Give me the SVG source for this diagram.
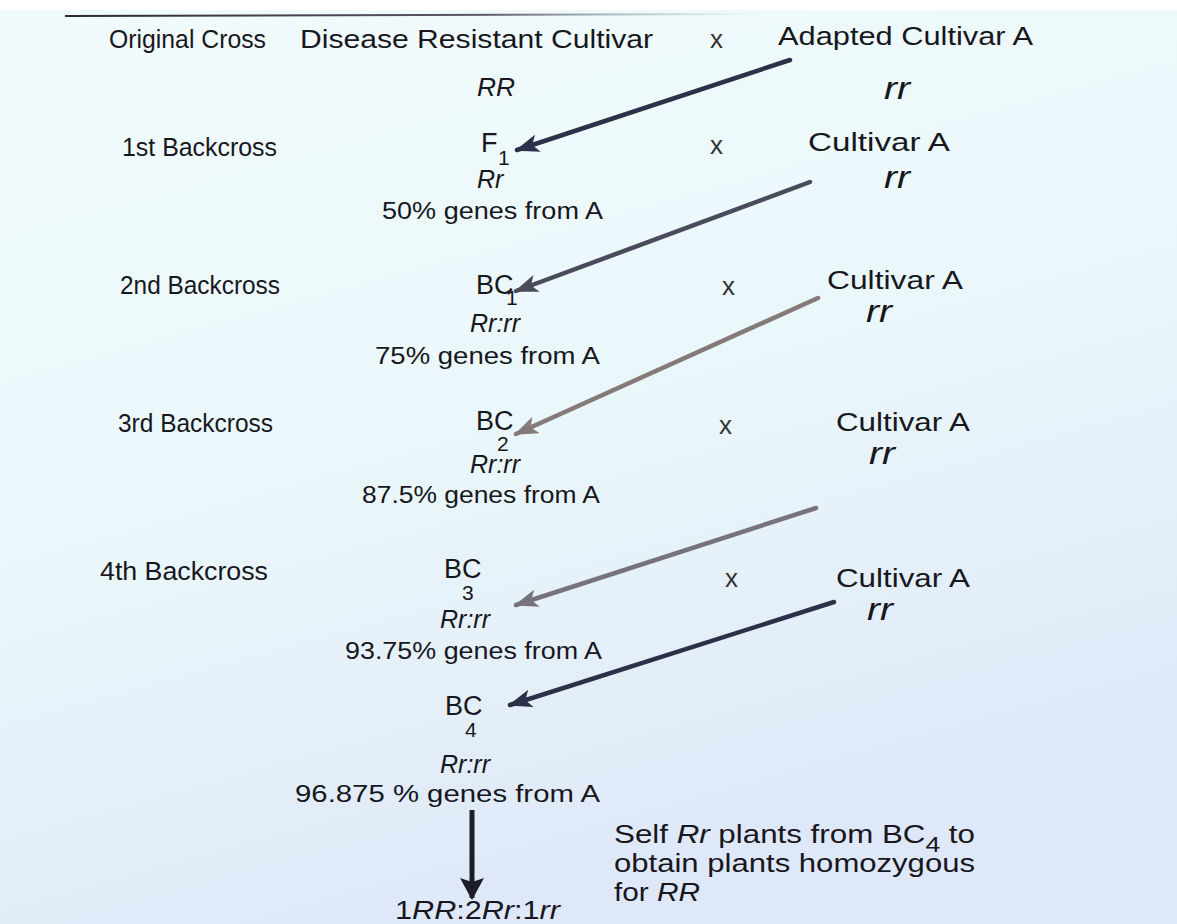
<svg xmlns="http://www.w3.org/2000/svg" width="1177" height="924" viewBox="0 0 1177 924">
  <defs>
    <linearGradient id="page" x1="0" y1="0" x2="0.35" y2="1">
      <stop offset="0" stop-color="#f2fbfc"/>
      <stop offset="0.55" stop-color="#eaf7fa"/>
      <stop offset="1" stop-color="#dfe8f8"/>
    </linearGradient>
    <linearGradient id="rule" x1="0" y1="0" x2="1" y2="0">
      <stop offset="0" stop-color="#2a2a30"/>
      <stop offset="0.6" stop-color="#5a5a66"/>
      <stop offset="1" stop-color="#9aa" stop-opacity="0"/>
    </linearGradient>
    <marker id="headDark" viewBox="0 0 24 18" refX="22" refY="9" markerWidth="24" markerHeight="18" markerUnits="userSpaceOnUse" orient="auto">
      <path d="M0,0 L24,9 L0,18 L6,9 Z" fill="#2c3048"/>
    </marker>
    <marker id="headMid" viewBox="0 0 24 18" refX="22" refY="9" markerWidth="24" markerHeight="18" markerUnits="userSpaceOnUse" orient="auto">
      <path d="M0,0 L24,9 L0,18 L6,9 Z" fill="#4a4c5c"/>
    </marker>
    <marker id="headLight" viewBox="0 0 24 18" refX="22" refY="9" markerWidth="24" markerHeight="18" markerUnits="userSpaceOnUse" orient="auto">
      <path d="M0,0 L24,9 L0,18 L6,9 Z" fill="#857a7a"/>
    </marker>
    <marker id="headGrey" viewBox="0 0 24 18" refX="22" refY="9" markerWidth="24" markerHeight="18" markerUnits="userSpaceOnUse" orient="auto">
      <path d="M0,0 L24,9 L0,18 L6,9 Z" fill="#77737a"/>
    </marker>
    <marker id="headDown" viewBox="0 0 22 24" refX="20" refY="12" markerWidth="22" markerHeight="24" markerUnits="userSpaceOnUse" orient="auto">
      <path d="M0,0 L22,12 L0,24 L4,12 Z" fill="#1c1e2a"/>
    </marker>
  </defs>
  <style>
    text { font-family: "Liberation Sans", Arial, Helvetica, sans-serif; fill: #17171d; }
    .lbl { font-size: 25px; }
    .head { font-size: 26px; }
    .sym { font-size: 27px; }
    .sub { font-size: 21px; }
    .gen { font-size: 25px; font-style: italic; }
    .rr { font-size: 32px; font-style: italic; }
    .pct { font-size: 23px; }
    .x { font-size: 26px; fill: #333; }
    .note { font-size: 26px; }
    .link { fill: none; stroke-width: 4.5; stroke-linecap: round; }
  </style>

  <!-- page background -->
  <rect x="0" y="0" width="1177" height="924" fill="url(#page)"/>
  <rect x="0" y="0" width="1177" height="10" fill="#ffffff"/>
  <line x1="65" y1="16" x2="760" y2="14" stroke="url(#rule)" stroke-width="2"/>

  <!-- row labels -->
  <g id="row-labels">
    <text class="lbl" x="109" y="48" textLength="157" lengthAdjust="spacingAndGlyphs">Original Cross</text>
    <text class="lbl" x="122" y="156" textLength="155" lengthAdjust="spacingAndGlyphs">1st Backcross</text>
    <text class="lbl" x="120" y="294" textLength="160" lengthAdjust="spacingAndGlyphs">2nd Backcross</text>
    <text class="lbl" x="118" y="432" textLength="155" lengthAdjust="spacingAndGlyphs">3rd Backcross</text>
    <text class="lbl" x="100" y="580" textLength="168" lengthAdjust="spacingAndGlyphs">4th Backcross</text>
  </g>

  <g id="parent-resistant">
    <text class="head" x="300" y="48" textLength="353" lengthAdjust="spacingAndGlyphs">Disease Resistant Cultivar</text>
    <text class="gen" x="477" y="96" textLength="38" lengthAdjust="spacingAndGlyphs">RR</text>
  </g>

  <g id="crosses">
    <text class="x" x="710" y="48">x</text>
    <text class="x" x="710" y="154">x</text>
    <text class="x" x="722" y="295">x</text>
    <text class="x" x="719" y="434">x</text>
    <text class="x" x="725" y="587">x</text>
  </g>

  <g id="adapted-a">
    <text class="head" x="778" y="45" textLength="255" lengthAdjust="spacingAndGlyphs">Adapted Cultivar A</text>
    <text class="rr" x="884" y="99" textLength="26" lengthAdjust="spacingAndGlyphs">rr</text>
  </g>
  <g id="recurrent-1">
    <text class="head" x="808" y="151" textLength="142" lengthAdjust="spacingAndGlyphs">Cultivar A</text>
    <text class="rr" x="884" y="188" textLength="26" lengthAdjust="spacingAndGlyphs">rr</text>
  </g>
  <g id="recurrent-2">
    <text class="head" x="827" y="289" textLength="136" lengthAdjust="spacingAndGlyphs">Cultivar A</text>
    <text class="rr" x="866" y="322" textLength="26" lengthAdjust="spacingAndGlyphs">rr</text>
  </g>
  <g id="recurrent-3">
    <text class="head" x="836" y="431" textLength="134" lengthAdjust="spacingAndGlyphs">Cultivar A</text>
    <text class="rr" x="869" y="464" textLength="26" lengthAdjust="spacingAndGlyphs">rr</text>
  </g>
  <g id="recurrent-4">
    <text class="head" x="836" y="587" textLength="134" lengthAdjust="spacingAndGlyphs">Cultivar A</text>
    <text class="rr" x="867" y="620" textLength="26" lengthAdjust="spacingAndGlyphs">rr</text>
  </g>

  <g id="f1">
    <text class="sym" x="481" y="152">F<tspan class="sub" x="498" y="165">1</tspan></text>
    <text class="gen" x="477" y="188">Rr</text>
    <text class="pct" x="382" y="219" textLength="221" lengthAdjust="spacingAndGlyphs">50% genes from A</text>
  </g>
  <g id="bc1">
    <text class="sym" x="476" y="294">BC<tspan class="sub" x="506" y="305">1</tspan></text>
    <text class="gen" x="470" y="332">Rr:rr</text>
    <text class="pct" x="375" y="364" textLength="225" lengthAdjust="spacingAndGlyphs">75% genes from A</text>
  </g>
  <g id="bc2">
    <text class="sym" x="476" y="430">BC<tspan class="sub" x="497" y="451">2</tspan></text>
    <text class="gen" x="470" y="473">Rr:rr</text>
    <text class="pct" x="362" y="503" textLength="238" lengthAdjust="spacingAndGlyphs">87.5% genes from A</text>
  </g>
  <g id="bc3">
    <text class="sym" x="444" y="578">BC<tspan class="sub" x="462" y="600">3</tspan></text>
    <text class="gen" x="440" y="628">Rr:rr</text>
    <text class="pct" x="345" y="659" textLength="257" lengthAdjust="spacingAndGlyphs">93.75% genes from A</text>
  </g>
  <g id="bc4">
    <text class="sym" x="445" y="715">BC<tspan class="sub" x="465" y="737">4</tspan></text>
    <text class="gen" x="440" y="773">Rr:rr</text>
    <text class="pct" x="295" y="802" textLength="305" lengthAdjust="spacingAndGlyphs">96.875 % genes from A</text>
  </g>

  <g id="selfed">
    <text class="note" x="395" y="919" textLength="165" lengthAdjust="spacingAndGlyphs">1<tspan font-style="italic">RR</tspan>:2<tspan font-style="italic">Rr</tspan>:1<tspan font-style="italic">rr</tspan></text>
  </g>

  <g id="self-note">
    <text class="note" x="614" y="843" textLength="361" lengthAdjust="spacingAndGlyphs">Self <tspan font-style="italic">Rr</tspan> plants from BC<tspan font-size="22" dy="9">4</tspan><tspan dy="-9"> to</tspan></text>
    <text class="note" x="614" y="872" textLength="361" lengthAdjust="spacingAndGlyphs">obtain plants homozygous</text>
    <text class="note" x="614" y="901" textLength="86" lengthAdjust="spacingAndGlyphs">for <tspan font-style="italic">RR</tspan></text>
  </g>

  <!-- connectors -->
  <g id="connectors">
    <line class="link" x1="790" y1="60" x2="517" y2="150" stroke="#2c3048" marker-end="url(#headDark)"/>
    <line class="link" x1="810" y1="182" x2="516" y2="291" stroke="#4a4c5c" marker-end="url(#headMid)"/>
    <line class="link" x1="818" y1="298" x2="516" y2="434" stroke="#857a7a" marker-end="url(#headLight)"/>
    <line class="link" x1="816" y1="508" x2="516" y2="605" stroke="#77737a" marker-end="url(#headGrey)"/>
    <line class="link" x1="834" y1="602" x2="510" y2="705" stroke="#2c3048" marker-end="url(#headDark)"/>
    <line x1="472" y1="810" x2="472" y2="898" stroke="#1c1e2a" stroke-width="5" marker-end="url(#headDown)"/>
  </g>
</svg>
